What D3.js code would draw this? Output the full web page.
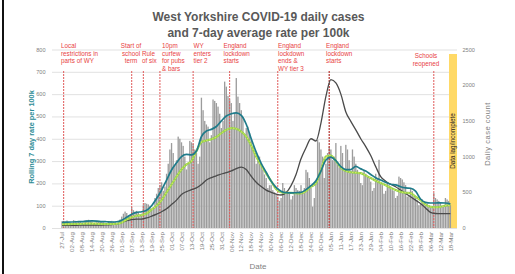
<!DOCTYPE html>
<html><head><meta charset="utf-8">
<script src="https://cdn.jsdelivr.net/npm/d3@7"></script>
<style>body{margin:0;background:#fff}svg{display:block;font-family:"Liberation Sans",Arial,sans-serif}</style>
</head><body><svg id="c" width="515" height="274"></svg>
<script>
// ---------- DATA ----------
const startDay = "2020-07-27";
// daily case counts, one value per day from 27-Jul-2020
const dailyCases = [
 95,100,90,105,85,60,70,
 110,100,95,90,85,65,70,
 105,110,115,100,95,70,75,
 100,95,90,85,80,60,65,
 90,95,100,90,85,70,75,
 120,160,200,230,210,170,180,
 290,250,230,240,220,180,200,
 320,350,340,330,310,260,290,
 420,480,560,600,640,520,580,
 760,900,1100,1190,1050,880,950,
 1280,1250,1200,1150,1000,820,900,
 1220,1200,1180,1100,1050,900,1000,
 1825,1650,1500,1450,1420,1200,1300,
 1800,1780,1750,1700,1600,1400,1500,
 2050,1980,1850,1800,1750,1500,1600,
 2100,1840,1750,1650,1550,1300,1400,
 1420,1330,1250,1150,1050,900,950,
 1000,860,815,750,700,560,600,
 600,530,500,470,440,380,420,
 630,560,520,500,480,400,450,
 600,560,530,520,600,500,560,
 815,780,700,560,300,420,650,
 1235,1200,1100,1000,700,900,1050,
 1140,1100,950,1000,1190,900,850,
 1150,1050,815,1165,1100,950,800,
 1100,1000,900,815,780,630,600,
 815,760,730,700,650,520,560,
 760,700,955,620,600,480,520,
 640,600,580,530,520,420,450,
 720,700,680,640,600,440,460,
 560,520,440,420,390,320,340,
 400,380,350,340,320,280,300,
 490,420,400,380,360,300,320,
 420,400,380,320
];
// rolling 7-day rates per 100k, one value every 3 days from 27-Jul-2020
const tealRate = [25,26,27,28,29,31,32,31,29,28,27,28,35,48,62,70,73,80,100,132,170,215,260,292,320,330,328,345,410,435,442,455,480,502,512,516,505,465,400,340,290,250,210,182,165,158,157,158,160,172,190,212,255,305,318,302,275,262,262,276,265,255,240,225,215,205,196,193,185,180,178,165,130,115,112,112,113,112,108];
const greenRate = [17,17,18,18,19,20,20,19,18,18,18,19,25,38,48,55,58,65,82,100,125,160,195,230,262,285,300,345,385,392,398,408,425,440,448,445,432,410,370,320,280,245,210,175,160,157,157,156,155,165,185,200,260,320,325,300,270,255,250,248,246,235,224,212,202,192,180,170,162,158,156,140,125,105,95,93,95,100,102];
const darkRate = [12,12,12,12,13,13,13,13,13,14,15,18,25,33,38,40,40,45,53,62,73,86,105,125,150,163,172,180,195,215,226,234,242,248,256,266,273,262,232,205,186,170,160,152,148,158,190,240,310,360,400,390,470,590,665,650,600,520,478,440,400,365,325,275,230,210,196,185,170,155,140,125,110,90,70,65,64,64,64];
const rateTicks = [0,100,200,300,400,500,600,700,800];
const caseTicks = [0,500,1000,1500,2000,2500];
const tickLabels = ["27-Jul","02-Aug","08-Aug","14-Aug","20-Aug","26-Aug","01-Sep","07-Sep","13-Sep","19-Sep","25-Sep","01-Oct","07-Oct","13-Oct","19-Oct","25-Oct","31-Oct","06-Nov","12-Nov","18-Nov","24-Nov","30-Nov","06-Dec","12-Dec","18-Dec","24-Dec","30-Dec","05-Jan","11-Jan","17-Jan","23-Jan","29-Jan","04-Feb","10-Feb","16-Feb","22-Feb","28-Feb","06-Mar","12-Mar","18-Mar"];
const eventDates = ["2020-07-28","2020-09-07","2020-09-14","2020-09-24","2020-10-14","2020-11-05","2020-12-04","2021-01-04","2021-03-08"];
const eventTexts = [
 ["Local","restrictions in","parts of WY"],
 ["Start of","school","term"],
 ["Rule","of six"],
 ["10pm","curfew","for pubs","& bars"],
 ["WY","enters","tier 2"],
 ["England","lockdown","starts"],
 ["England","lockdown","ends &","WY tier 3"],
 ["England","lockdown","starts"],
 ["Schools","reopened"]
];

// ---------- LAYOUT ----------
// label placement: [x, anchor, first baseline]
const eventLabelPos = [[61,"start",48],[131,"middle",48],[142,"start",55.5],[162,"start",48],[193.5,"start",48],[223.5,"start",48],[278,"start",48],[326,"start",48],[426,"middle",58]];
const parse = d3.timeParse("%Y-%m-%d");
const t0 = parse(startDay);
const svg = d3.select("#c");
const x = d3.scaleTime().domain([t0, parse("2021-03-18")]).range([62, 450.4]);
const yL = d3.scaleLinear().domain([0,800]).range([228,49.5]);
const yR = d3.scaleLinear().domain([0,2500]).range([228,49.5]);
const X0 = 52, X1 = 457;

// left border frame
svg.append("rect").attr("x",2).attr("y",0).attr("width",2).attr("height",274).attr("fill","#111");

// title
svg.append("text").attr("x",258.5).attr("y",21).attr("text-anchor","middle").attr("font-size",12).attr("font-weight","bold").attr("fill","#595959").text("West Yorkshire COVID-19 daily cases");
svg.append("text").attr("x",258.5).attr("y",37).attr("text-anchor","middle").attr("font-size",12).attr("font-weight","bold").attr("fill","#595959").text("and 7-day average rate per 100k");

// gridlines
svg.append("g").selectAll("line").data(rateTicks).join("line")
 .attr("x1",X0).attr("x2",X1).attr("y1",d=>yL(d)+0.5).attr("y2",d=>yL(d)+0.5)
 .attr("stroke","#d9d9d9").attr("stroke-width",0.8);

// yellow data lag band
svg.append("rect").attr("x",449).attr("y",54).attr("width",8).attr("height",yL(0)-54).attr("fill","#ffd966");

// bars
const bw = (x(d3.timeDay.offset(t0,1)) - x(t0));
svg.append("g").selectAll("rect").data(dailyCases).join("rect")
 .attr("x",(d,i)=>x(d3.timeDay.offset(t0,i)) - bw*0.4)
 .attr("width",bw*0.8)
 .attr("y",d=>yR(d)).attr("height",d=>yR(0)-yR(d))
 .attr("fill","#9c9c9c");

// event lines
eventDates.forEach((ds,i)=>{
  const ex = x(parse(ds));
  svg.append("line").attr("x1",ex).attr("x2",ex).attr("y1",71).attr("y2",228)
   .attr("stroke", i===7 ? "#c0504d" : "#e05a5a").attr("stroke-width", i===7?1.4:1).attr("stroke-dasharray","2,1");
  const p = eventLabelPos[i];
  const t = svg.append("text").attr("font-size",6.3).attr("fill","#e8423f").attr("text-anchor",p[1]);
  eventTexts[i].forEach((s,k)=>t.append("tspan").attr("x",p[0]).attr("y",p[2]+k*7.5).text(s));
});

// lines
const lineDate = i => d3.timeDay.offset(t0, i*3);
const mk = (arr) => d3.line().x((d,i)=>x(lineDate(i))).y(d=>yL(d)).curve(d3.curveMonotoneX)(arr);
svg.append("path").attr("d",mk(darkRate)).attr("fill","none").attr("stroke","#4a4a4a").attr("stroke-width",1.3);
svg.append("path").attr("d",mk(greenRate)).attr("fill","none").attr("stroke","#92d050").attr("stroke-width",2.2);
svg.append("path").attr("d",mk(greenRate)).attr("fill","none").attr("stroke","#d6e85a").attr("stroke-width",1.2).attr("stroke-dasharray","1.5,1.5");
svg.append("path").attr("d",mk(tealRate)).attr("fill","none").attr("stroke","#1f7b8a").attr("stroke-width",1.7);

// data lag text
svg.append("text").attr("transform",`translate(455.3,141) rotate(-90)`).attr("text-anchor","middle").attr("font-size",6.3).attr("fill","#222").text("Data lag/incomplete");

// axis tick labels
svg.append("g").selectAll("text").data(rateTicks).join("text")
 .attr("x",45.5).attr("y",d=>yL(d)+2).attr("text-anchor","end").attr("font-size",5.6).attr("fill","#7f7f7f").text(d=>d);
svg.append("g").selectAll("text").data(caseTicks).join("text")
 .attr("x",462.5).attr("y",d=>yR(d)+2).attr("text-anchor","start").attr("font-size",5.6).attr("fill","#7f7f7f").text(d=>d);

// x tick labels
const monthYear = m => (["Jan","Feb","Mar"].includes(m) ? "2021" : "2020");
const pLab = d3.timeParse("%d-%b-%Y");
svg.append("g").selectAll("text").data(tickLabels).join("text")
 .attr("transform",d=>`translate(${x(pLab(d+"-"+monthYear(d.slice(3))))+2.2},232) rotate(-90)`)
 .attr("text-anchor","end").attr("font-size",6.2).attr("fill","#7f7f7f").text(d=>d);

// axis titles
svg.append("text").attr("transform","translate(34,137) rotate(-90)").attr("text-anchor","middle").attr("font-size",7.4).attr("font-weight","bold").attr("fill","#2b8c96").text("Rolling 7 day rate per 100k");
svg.append("text").attr("transform","translate(490,134) rotate(-90)").attr("text-anchor","middle").attr("font-size",7.6).attr("letter-spacing",0.5).attr("fill","#7f7f7f").text("Daily case count");
svg.append("text").attr("x",258).attr("y",269).attr("text-anchor","middle").attr("font-size",8).attr("fill","#7f7f7f").text("Date");
</script></body></html>
